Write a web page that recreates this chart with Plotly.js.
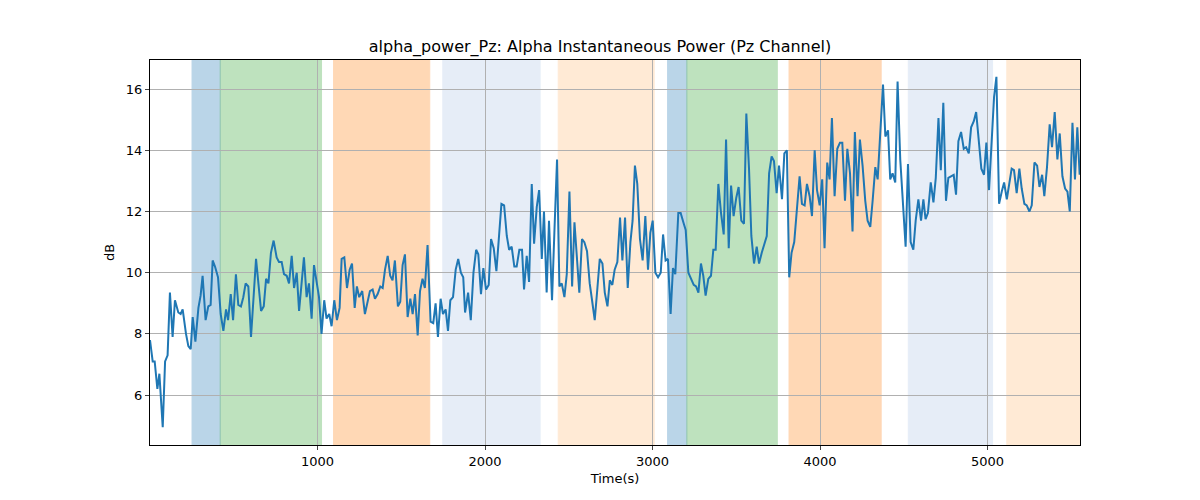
<!DOCTYPE html>
<html>
<head>
<meta charset="utf-8">
<script src="https://cdn.plot.ly/plotly-3.0.1.min.js"></script>
<style>
  html, body { margin: 0; padding: 0; background: #fff; }
  #chart { width: 1200px; height: 500px; }
</style>
</head>
<body>
<div id="chart"></div>
<script>
var times = [0,16,28,44,56,76,90,105,119,135,149,169,183,195,215,229,243,255,271,289,302,314,332,348,362,374,388,406,422,438,454,466,482,496,513,527,543,557,571,587,603,633,663,679,693,707,722,738,756,770,786,800,816,830,846,860,876,890,919,935,949,
  965,979,995,1009,1024,1040,1054,1070,1084,1100,1116,1132,1144,1160,1176,1192,1206,1222,1235,1249,1267,1283,1313,1329,1343,1359,1375,1389,1403,1419,1434,1448,1462,1480,1494,1508,1522,1538,1554,1568,1582,1598,1612,1627,1641,1657,1675,1691,1705,1719,1735,1749,1765,1779,1793,1809,1825,1840,1856,1870,
  1881,1899,1915,1931,1947,1960,1976,1990,2006,2022,2036,2052,2068,2084,2098,2114,2130,2144,2159,2175,2189,2205,2221,2233,2249,2263,2279,2293,2309,2323,2339,2352,2368,2382,2400,2414,2430,2444,2458,2474,2488,2504,2520,2534,2550,2563,2579,2593,2609,2625,2639,2655,2671,2685,2701,2715,2731,2745,2760,2774,2790,
  2806,2820,2836,2852,2868,2881,2895,2909,2925,2941,2957,2973,2987,3001,3017,3033,3049,3063,3078,3092,3108,3122,3136,3154,3168,3184,3198,3214,3230,3246,3260,3274,3289,3303,3317,3333,3349,3363,3377,3393,3409,3425,3439,3455,3469,3484,3500,3514,3530,3546,3560,3576,3590,3606,3622,3636,3652,3666,3682,3696,3711,3725,
  3741,3755,3773,3787,3802,3816,3830,3846,3862,3878,3892,3908,3922,3938,3952,3968,3982,3998,4013,4027,4043,4057,4071,4087,4103,4119,4133,4149,4163,4179,4194,4208,4224,4238,4254,4270,4284,4300,4314,4330,4344,4360,4376,4390,4406,4419,4433,4449,4463,4479,4495,4511,4525,4541,4557,4571,4587,4603,4617,4630,4644,
  4661,4677,4691,4707,4721,4736,4752,4766,4782,4798,4812,4826,4842,4858,4872,4888,4902,4918,4932,4947,4963,4979,4993,5009,5023,5039,5053,5069,5085,5099,5115,5129,5144,5158,5174,5190,5204,5220,5234,5250,5264,5280,5296,5310,5326,5339,5355,5371,5385,5401,5417,5431,5447,5463,5477,5491,5507,5522,5536,5550];

var power = [7.8,7.1,7.1,6.2,6.7,4.95,7.1,7.3,9.35,7.9,9.1,8.7,8.65,8.8,8.0,7.6,7.5,8.55,7.75,8.85,9.25,9.9,8.45,8.9,8.95,10.4,10.2,9.85,8.65,8.1,8.8,8.45,9.3,8.45,9.95,8.95,8.9,9.2,9.65,9.55,7.9,10.45,8.75,8.9,9.8,9.65,10.65,11.05,10.5,10.35,10.35,9.95,9.9,9.65,10.55,9.5,10.0,8.75,10.5,9.2,9.65,
  8.5,10.25,9.75,9.2,8.0,9.1,8.5,8.65,8.25,9.1,8.45,8.85,10.45,10.5,9.5,10.1,10.3,8.85,9.55,9.2,9.4,8.65,9.4,9.45,9.15,9.3,9.55,9.5,10.1,10.55,9.9,9.75,10.4,8.9,9.05,10.25,10.6,8.55,9.15,8.65,9.3,7.95,9.4,9.8,9.5,10.9,8.4,8.35,9.0,7.9,9.15,8.65,8.8,8.1,9.1,9.2,10.1,10.45,10.0,9.85,
  8.7,9.35,8.45,10.0,10.75,10.6,9.3,10.15,9.45,9.6,11.1,10.8,10.05,11.3,12.25,12.2,11.2,10.75,10.85,10.2,10.2,10.75,10.75,9.45,10.55,9.7,12.9,10.95,12.15,12.7,10.45,12.0,9.35,11.7,9.1,11.3,13.7,9.55,9.65,9.2,9.95,12.65,9.55,11.65,10.2,9.35,11.1,11.0,10.7,9.65,9.1,8.45,9.5,10.45,10.3,9.35,8.9,9.75,9.6,10.1,10.35,
  11.8,10.4,11.8,9.5,11.0,11.7,13.5,12.9,11.1,10.4,11.85,10.1,11.3,11.7,10.0,9.85,10.0,11.25,10.4,10.45,8.65,10.15,9.95,11.95,11.95,11.65,11.4,10.0,9.8,9.6,9.55,9.35,10.3,9.9,9.25,9.8,9.9,10.75,10.75,12.9,11.95,11.25,14.35,10.8,12.85,11.85,12.45,12.8,11.7,11.6,15.2,13.4,11.2,10.3,10.85,10.3,10.65,10.95,11.2,13.25,13.8,13.65,
  12.6,13.5,12.4,13.9,14.0,9.85,10.65,11.0,12.05,13.15,12.25,12.2,12.9,12.5,11.85,14.0,12.7,12.2,13.05,10.8,13.6,13.05,15.05,12.5,14.05,14.25,14.25,12.35,14.05,13.25,11.35,14.6,12.5,14.35,13.5,12.35,11.7,11.5,12.35,13.45,13.05,14.6,16.15,14.45,14.65,13.05,13.25,12.95,16.25,13.7,12.25,10.85,13.55,11.0,10.75,11.7,12.4,11.7,12.4,11.75,11.95,
  12.95,12.3,13.1,15.05,13.35,15.55,12.35,13.1,13.15,13.2,12.55,14.3,14.6,14.05,14.1,13.9,14.75,14.95,15.25,14.25,13.4,13.2,14.25,12.7,14.2,15.75,16.4,12.25,12.65,12.95,12.4,12.9,13.4,13.35,12.6,13.4,12.75,12.25,12.2,12.0,12.2,13.6,13.5,12.8,13.2,12.5,13.45,14.85,14.1,15.25,13.7,14.55,13.15,12.75,12.65,12.0,14.9,13.05,14.75,13.2];

var spanStart = [251, 419, 1096, 1748, 2437, 3090, 3205, 3815, 4527, 5115];
var spanEnd   = [419, 1024, 1670, 2329, 3010, 3205, 3745, 4365, 5030, 5560];
var spanColor = ['#1f77b4', '#2ca02c', '#ff7f0e', '#aec7e8', '#ffbb78', '#1f77b4', '#2ca02c', '#ff7f0e', '#aec7e8', '#ffbb78'];
var spanAlpha = [0.3, 0.3, 0.3, 0.3, 0.3, 0.3, 0.3, 0.3, 0.3, 0.3];

var shapes = spanStart.map(function (s, i) {
  return {
    type: 'rect', xref: 'x', yref: 'paper',
    x0: s, x1: spanEnd[i], y0: 0, y1: 1,
    fillcolor: spanColor[i], opacity: spanAlpha[i],
    line: { color: spanColor[i], width: 1 },
    layer: 'below'
  };
});

var trace = {
  x: times,
  y: power,
  type: 'scatter',
  mode: 'lines',
  line: { color: '#1f77b4', width: 2 },
  hoverinfo: 'x+y'
};

var layout = {
  width: 1200,
  height: 500,
  margin: { l: 150, r: 120, t: 60, b: 55, pad: 0 },
  font: { family: 'DejaVu Sans, sans-serif', size: 13, color: '#000' },
  title: {
    text: 'alpha_power_Pz: Alpha Instantaneous Power (Pz Channel)',
    font: { size: 16 },
    x: 0.5, xanchor: 'center', y: 0.908, yanchor: 'middle'
  },
  showlegend: false,
  plot_bgcolor: '#fff',
  paper_bgcolor: '#fff',
  shapes: shapes,
  xaxis: {
    title: { text: 'Time(s)', font: { size: 13 }, standoff: 6 },
    range: [0, 5552],
    tickvals: [1000, 2000, 3000, 4000, 5000],
    ticks: 'outside', ticklen: 4,
    showgrid: true, gridcolor: '#b0b0b0', gridwidth: 1,
    zeroline: false,
    showline: true, mirror: true, linecolor: '#000', linewidth: 1
  },
  yaxis: {
    title: { text: 'dB', font: { size: 13 }, standoff: 8 },
    range: [4.37, 16.95],
    tickvals: [6, 8, 10, 12, 14, 16],
    ticks: 'outside', ticklen: 4,
    showgrid: true, gridcolor: '#b0b0b0', gridwidth: 1,
    zeroline: false,
    showline: true, mirror: true, linecolor: '#000', linewidth: 1
  }
};

Plotly.newPlot('chart', [trace], layout, { displayModeBar: false, staticPlot: true });
</script>
</body>
</html>
